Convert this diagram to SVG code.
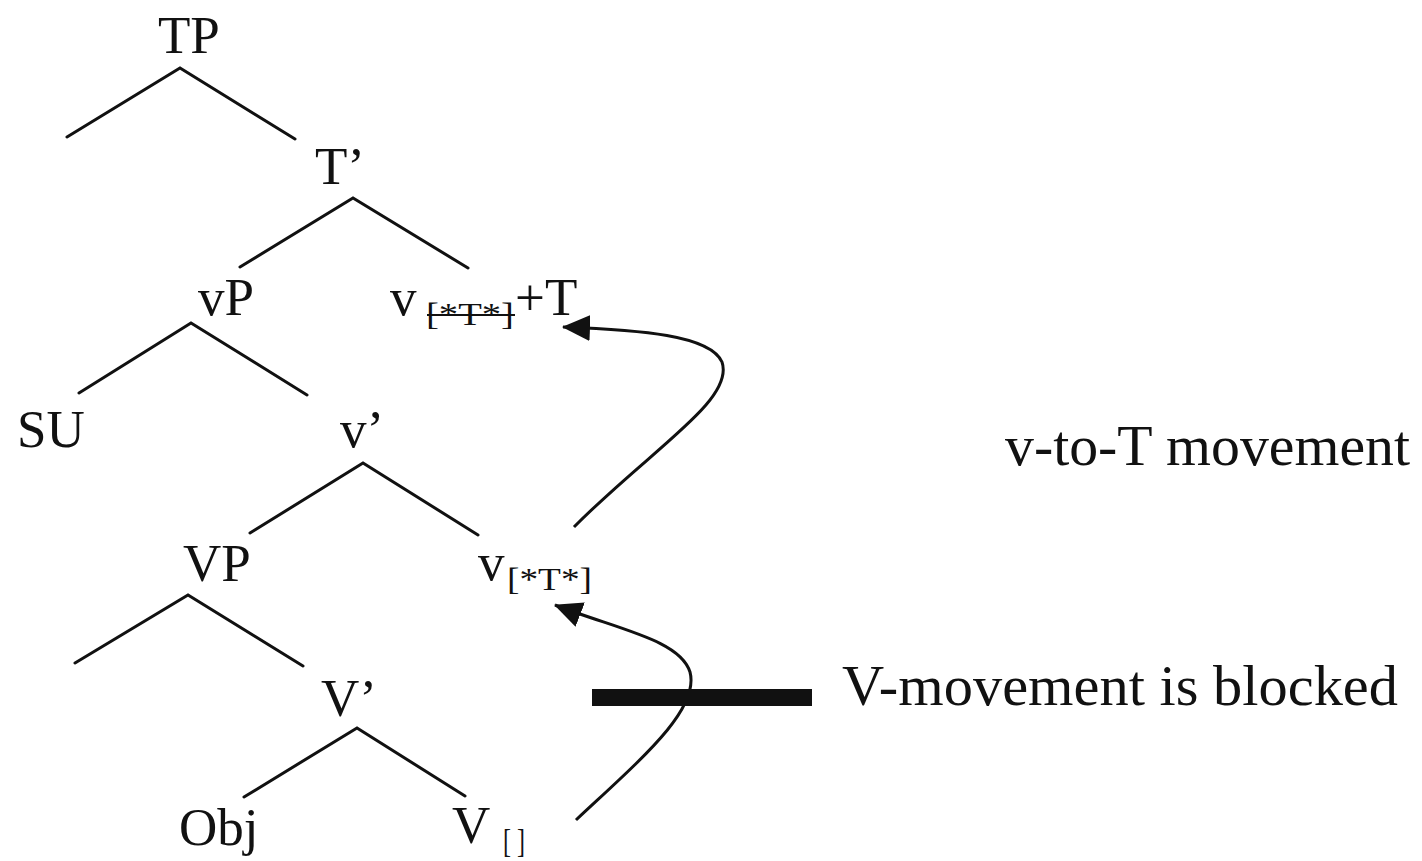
<svg xmlns="http://www.w3.org/2000/svg" width="1422" height="861" viewBox="0 0 1422 861">
<defs>
<style>
.t{font-family:"Liberation Serif","Times New Roman",serif;font-size:53px;fill:#111;}
.s{font-family:"Liberation Serif","Times New Roman",serif;font-size:31px;fill:#111;}
.r{font-family:"Liberation Serif","Times New Roman",serif;font-size:58px;fill:#111;}
.e{stroke:#111;stroke-width:3;fill:none;stroke-linecap:round;}
.a{stroke:#111;stroke-width:3;fill:none;}
</style>
<marker id="ah" markerUnits="userSpaceOnUse" markerWidth="28" markerHeight="26" refX="27" refY="13" orient="auto">
<path d="M0,0 L28,13 L0,26 Z" fill="#111"/>
</marker>
</defs>
<rect width="1422" height="861" fill="#fff"/>
<g id="edges">
<path class="e" d="M67 137 L180 68 L295 139"/>
<path class="e" d="M240 267 L353 198 L468 268"/>
<path class="e" d="M79 393 L191 323 L307 395"/>
<path class="e" d="M250 533 L363 463 L478 535"/>
<path class="e" d="M75 663 L188 595 L303 666"/>
<path class="e" d="M244 797 L357 728 L465 796"/>
</g>
<g id="connectors">
<path class="a" marker-end="url(#ah)" d="M574 527 C650 450, 735 400, 722 362 C710 335, 640 330, 563 327"/>
<path class="a" marker-end="url(#ah)" d="M576 820 C640 760, 700 710, 690 672 C680 640, 620 630, 555 605"/>
</g>
<g id="node-TP"><text class="t" x="158" y="53">TP</text></g>
<g id="node-Tbar"><text class="t" x="315" y="184">T’</text></g>
<g id="node-vP"><text class="t" x="198" y="315">vP</text></g>
<g id="node-vT">
<text class="t" x="390" y="315">v</text>
<text class="s" x="426" y="325" textLength="88" lengthAdjust="spacingAndGlyphs">[*T*]</text>
<line x1="427" y1="315" x2="515" y2="315" stroke="#111" stroke-width="2"/>
<text class="t" x="515" y="315">+T</text>
</g>
<g id="node-SU"><text class="t" x="17" y="447">SU</text></g>
<g id="node-vbar"><text class="t" x="340" y="447">v’</text></g>
<g id="node-VP"><text class="t" x="183" y="581">VP</text></g>
<g id="node-v">
<text class="t" x="478" y="580">v</text>
<text class="s" x="507" y="590" textLength="85" lengthAdjust="spacingAndGlyphs">[*T*]</text>
</g>
<g id="node-Vbar"><text class="t" x="321" y="716">V’</text></g>
<g id="node-Obj"><text class="t" x="179" y="845">Obj</text></g>
<g id="node-V">
<text class="t" x="452" y="843">V</text>
<text class="s" x="503" y="852" style="font-size:34px" textLength="22" lengthAdjust="spacingAndGlyphs">[ ]</text>
</g>
<g id="label-vtoT"><text class="r" x="1005" y="465" textLength="405" lengthAdjust="spacingAndGlyphs">v-to-T movement</text></g>
<g id="label-blocked">
<rect x="592" y="689" width="220" height="17" fill="#111"/>
<text class="r" x="842" y="705" textLength="556" lengthAdjust="spacingAndGlyphs">V-movement is blocked</text>
</g>
</svg>
